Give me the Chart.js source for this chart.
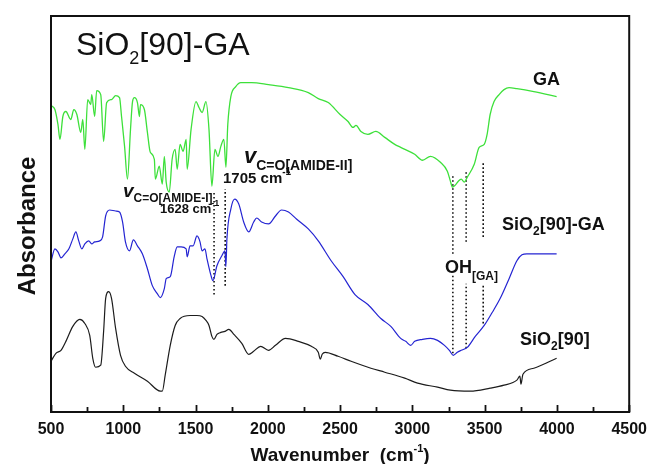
<!DOCTYPE html>
<html>
<head>
<meta charset="utf-8">
<script src="https://cdn.jsdelivr.net/npm/chart.js@4.4.1/dist/chart.umd.min.js"></script>
<style>
  html, body { margin: 0; padding: 0; background: #fff; }
  #c { display: block; }
</style>
</head>
<body>
<canvas id="c" width="655" height="464"></canvas>
<script>
// ---- Data (arbitrary absorbance units) ----
const xTicks = [500, 1000, 1500, 2000, 2500, 3000, 3500, 4000, 4500];

const wnGA = [500,527,548,562,582,603,637,658,679,706,720,734,754,775,782,802,816,844,864,885,919,947,974,988,1009,1029,1050,1064,1077,1098,1112,1119,1146,1167,1187,1215,1222,1249,1270,1284,1297,1318,1338,1359,1373,1393,1414,1435,1442,1469,1503,1524,1545,1572,1593,1613,1634,1655,1675,1696,1710,1723,1744,1778,1813,1888,2005,2143,2280,2349,2418,2500,2555,2589,2610,2644,2692,2747,2809,2878,2919,3016,3070,3125,3194,3242,3263,3277,3297,3318,3338,3359,3380,3428,3462,3497,3517,3538,3565,3600,3634,3669,3723,3840,3998];
const absGA = [308,304,289,274,297,302,294,304,299,281,294,264,314,309,319,297,323,319,272,311,314,318,316,297,267,234,284,312,316,311,297,309,304,281,261,254,234,247,229,257,231,221,254,264,244,269,262,274,244,284,312,306,301,312,284,227,264,257,267,274,246,289,317,327,331,331,329,326,321,315,311,299,292,286,288,282,279,282,276,269,266,259,253,257,251,242,232,226,228,232,234,231,236,249,266,269,279,299,312,319,324,326,325,322,317];

const wnSiGA = [500,527,548,569,596,624,651,672,692,713,734,761,782,802,837,857,878,906,947,974,995,1015,1043,1070,1098,1132,1167,1201,1235,1256,1284,1297,1325,1352,1373,1400,1435,1442,1462,1483,1510,1531,1545,1565,1579,1607,1620,1648,1682,1703,1710,1717,1744,1771,1799,1833,1868,1902,1923,1957,2005,2053,2095,2143,2198,2280,2349,2438,2521,2603,2692,2782,2851,2919,2954,2988,3016,3070,3125,3174,3222,3256,3283,3311,3338,3380,3435,3497,3552,3607,3669,3723,3758,3792,3998];
const absSiGA = [151,164,161,155,159,164,174,181,172,164,169,172,169,171,172,176,197,203,202,201,191,171,162,173,167,159,144,127,119,115,124,134,136,156,166,166,164,156,167,167,177,171,162,164,154,137,132,147,157,162,146,174,204,214,209,191,181,191,195,191,189,197,203,201,194,184,172,152,136,118,108,94,86,74,71,67,71,73,74,72,67,62,57,60,62,65,76,87,100,114,134,152,158,159,159];

const wnSi = [500,534,569,603,651,699,734,768,789,809,844,864,878,899,919,947,981,1015,1077,1167,1256,1270,1290,1325,1359,1393,1462,1510,1545,1572,1593,1613,1627,1648,1675,1703,1730,1765,1820,1868,1902,1950,2005,2053,2122,2211,2301,2349,2363,2376,2397,2486,2576,2713,2809,2947,3036,3174,3263,3400,3538,3634,3723,3744,3751,3765,3840,3998];
const absSi = [51,59,62,71,86,93,89,77,54,45,47,81,114,121,114,84,57,46,39,31,21,21,37,67,87,94,97,97,96,92,87,76,73,78,80,81,83,78,69,58,61,66,62,67,74,71,66,60,53,58,60,56,51,44,40,34,29,25,22,21,24,27,32,36,28,38,44,54];

// Marker lines (wavenumber, lower / upper absorbance)
const markerWn    = [1628, 1705, 3280, 3280, 3372, 3372, 3490, 3490];
const markerLow   = [118, 127, 159, 59, 171, 64, 176, 89];
const markerHigh  = [221, 224, 237, 137, 241, 129, 251, 129];

// ---- Build datasets ----
function pts(xs, ys) { return xs.map((x, i) => ({ x: x, y: ys[i] })); }
const datasets = [
  { label: 'GA', data: pts(wnGA, absGA), borderColor: '#3de03a', borderWidth: 1.3 },
  { label: 'SiO2[90]-GA', data: pts(wnSiGA, absSiGA), borderColor: '#2424d2', borderWidth: 1.2 },
  { label: 'SiO2[90]', data: pts(wnSi, absSi), borderColor: '#1c1c1c', borderWidth: 1.2 }
].map(d => Object.assign(d, { pointRadius: 0, fill: false, cubicInterpolationMode: 'monotone' }));

markerWn.forEach((w, i) => {
  datasets.push({
    label: 'marker' + i,
    data: [{ x: w, y: markerLow[i] }, { x: w, y: markerHigh[i] }],
    borderColor: '#111', borderWidth: 1.6, borderDash: [1.6, 2.4], pointRadius: 0, fill: false
  });
});

const FONT = "'Liberation Sans', Arial, Helvetica, sans-serif";
function f(size, weight, style) { return (style || '') + ' ' + (weight || 'normal') + ' ' + size + 'px ' + FONT; }

function rich(ctx, x, y, parts, align) {
  let total = 0;
  parts.forEach(p => { ctx.font = f(p.s, p.b ? 'bold' : 'normal', p.i ? 'italic' : ''); p.w = ctx.measureText(p.t).width; total += p.w; });
  let cx = align === 'center' ? x - total / 2 : x;
  ctx.textAlign = 'left';
  ctx.textBaseline = 'alphabetic';
  parts.forEach(p => {
    ctx.font = f(p.s, p.b ? 'bold' : 'normal', p.i ? 'italic' : '');
    ctx.fillText(p.t, cx, y + (p.dy || 0));
    cx += p.w;
  });
}

const decor = {
  id: 'decor',
  afterDraw(chart) {
    const ctx = chart.ctx;
    const a = chart.chartArea;
    const xs = chart.scales.x;
    ctx.save();
    ctx.fillStyle = '#111';
    ctx.strokeStyle = '#111';
    // frame
    ctx.lineWidth = 2;
    ctx.strokeRect(a.left, a.top, a.right - a.left, a.bottom - a.top);
    // inward ticks every 250
    ctx.lineWidth = 1.8;
    for (let v = xs.min; v <= xs.max; v += 250) {
      const px = Math.round(xs.getPixelForValue(v)) + 0.5;
      const len = (v % 500 === 0) ? 7 : 5;
      ctx.beginPath();
      ctx.moveTo(px, a.bottom);
      ctx.lineTo(px, a.bottom - len);
      ctx.stroke();
    }
    // axis titles
    rich(ctx, (a.left + a.right) / 2, 461, [
      { t: 'Wavenumber  (cm', s: 19, b: true },
      { t: '-1', s: 11, b: true, dy: -9 },
      { t: ')', s: 19, b: true }
    ], 'center');
    ctx.save();
    ctx.translate(35, 226);
    ctx.rotate(-Math.PI / 2);
    ctx.textAlign = 'center';
    ctx.textBaseline = 'alphabetic';
    ctx.font = f(24, 'bold');
    ctx.fillText('Absorbance', 0, 0);
    ctx.restore();

    // panel title
    rich(ctx, 76, 55, [
      { t: 'SiO', s: 32 },
      { t: '2', s: 18, dy: 9 },
      { t: '[90]-GA', s: 32 }
    ]);
    // series labels
    rich(ctx, 533, 85, [{ t: 'GA', s: 18, b: true }]);
    rich(ctx, 502, 230, [
      { t: 'SiO', s: 18, b: true }, { t: '2', s: 12, b: true, dy: 5 }, { t: '[90]-GA', s: 18, b: true }
    ]);
    rich(ctx, 520, 345, [
      { t: 'SiO', s: 18, b: true }, { t: '2', s: 12, b: true, dy: 5 }, { t: '[90]', s: 18, b: true }
    ]);
    // OH label
    rich(ctx, 445, 273, [
      { t: 'OH', s: 18, b: true }, { t: '[GA]', s: 12, b: true, dy: 7 }
    ]);
    // amide I
    rich(ctx, 123, 197, [
      { t: 'v', s: 19, b: true, i: true }, { t: 'C=O[AMIDE-I]', s: 12, b: true, dy: 5 }
    ]);
    rich(ctx, 160, 213, [
      { t: '1628 cm', s: 13, b: true }, { t: '-1', s: 9, b: true, dy: -7 }
    ]);
    // amide II
    rich(ctx, 244, 163, [
      { t: 'v', s: 22, b: true, i: true }, { t: 'C=O[AMIDE-II]', s: 14, b: true, dy: 7 }
    ]);
    rich(ctx, 223, 183, [
      { t: '1705 cm', s: 15, b: true }, { t: '-1', s: 10, b: true, dy: -8 }
    ]);
    ctx.restore();
  }
};

new Chart(document.getElementById('c').getContext('2d'), {
  type: 'line',
  data: { datasets: datasets },
  options: {
    responsive: false,
    animation: false,
    devicePixelRatio: 1,
    layout: { padding: { left: 51, right: 22, top: 16, bottom: 16.8 } },
    plugins: { legend: { display: false }, tooltip: { enabled: false } },
    scales: {
      x: {
        type: 'linear', min: 500, max: 4500,
        afterBuildTicks: s => { s.ticks = xTicks.map(v => ({ value: v })); },
        ticks: { color: '#111', padding: 8, maxRotation: 0, autoSkip: false,
                 callback: v => String(v),
                 font: { family: FONT, size: 16, weight: 'bold' } },
        grid: { display: false, drawTicks: false },
        border: { display: false }
      },
      y: { display: false, min: 0, max: 398 }
    }
  },
  plugins: [decor]
});
</script>
</body>
</html>
